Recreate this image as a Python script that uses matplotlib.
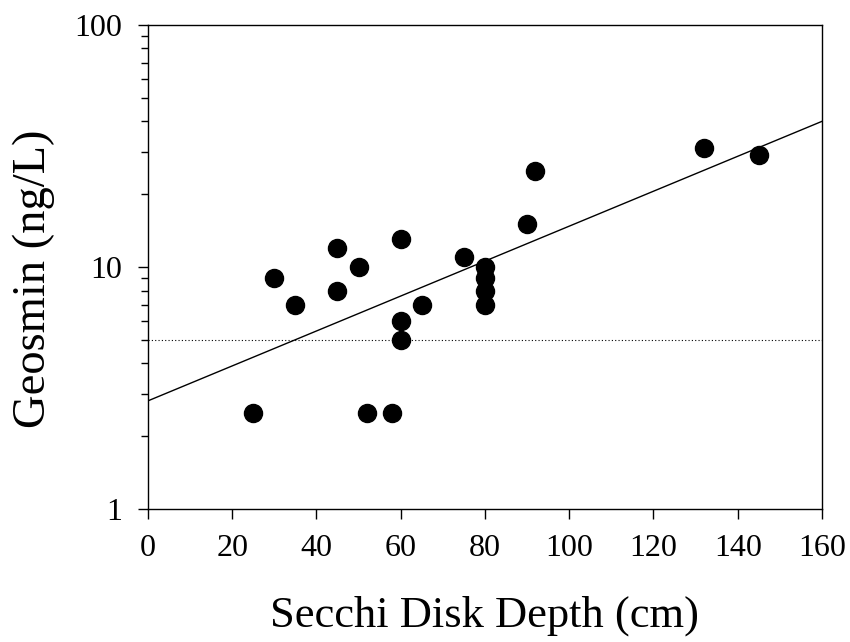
import numpy as np
import matplotlib
matplotlib.use("Agg")
import matplotlib.pyplot as plt
from matplotlib.ticker import LogLocator, NullFormatter, FixedLocator

plt.rcParams['font.family'] = ['Liberation Serif', 'DejaVu Serif']

# Secchi depth (cm) vs geosmin (ng/L)
secchi = [25, 30, 35, 45, 45, 50, 52, 58, 60, 60, 60, 65, 75,
          80, 80, 80, 80, 90, 92, 132, 145]
geosmin = [2.5, 9, 7, 12, 8, 10, 2.5, 2.5, 13, 6, 5, 7, 11,
           10, 9, 8, 7, 15, 25, 31, 29]

# regression line end points
fit_x = [0, 160]
fit_y = [2.8, 40]

threshold = 5

fig = plt.figure(figsize=(8.5, 6.42), dpi=100)
ax = fig.add_axes([0.174, 0.207, 0.793, 0.754])

ax.plot(secchi, geosmin, 'o', color='black', markersize=13, zorder=3)
ax.plot(fit_x, fit_y, '-', color='black', linewidth=1.0)
ax.axhline(threshold, color='black', linestyle=(0, (1, 2)), linewidth=0.8)

ax.set_yscale('log')
ax.set_xlim(0, 160)
ax.set_ylim(1, 100)
ax.xaxis.set_major_locator(FixedLocator(np.arange(0, 161, 20)))
ax.yaxis.set_major_locator(FixedLocator([1, 10, 100]))
ax.yaxis.set_major_formatter(plt.FixedFormatter(['1', '10', '100']))
ax.yaxis.set_minor_locator(LogLocator(base=10, subs=np.arange(2, 10)))
ax.yaxis.set_minor_formatter(NullFormatter())

ax.tick_params(axis='both', which='major', direction='out', length=7,
               width=1, labelsize=23, top=False, right=False)
ax.tick_params(axis='x', which='major', pad=11)
ax.tick_params(axis='y', which='major', pad=11.5)
ax.tick_params(axis='y', which='minor', direction='out', length=5,
               width=1, right=False)
for s in ax.spines.values():
    s.set_linewidth(1)

ax.set_xlabel('Secchi Disk Depth (cm)', fontsize=32, labelpad=23)
ax.set_ylabel('Geosmin (ng/L)', fontsize=33.5)
ax.yaxis.set_label_coords(-0.138, 0.475)

plt.savefig('out.png', dpi=100)
